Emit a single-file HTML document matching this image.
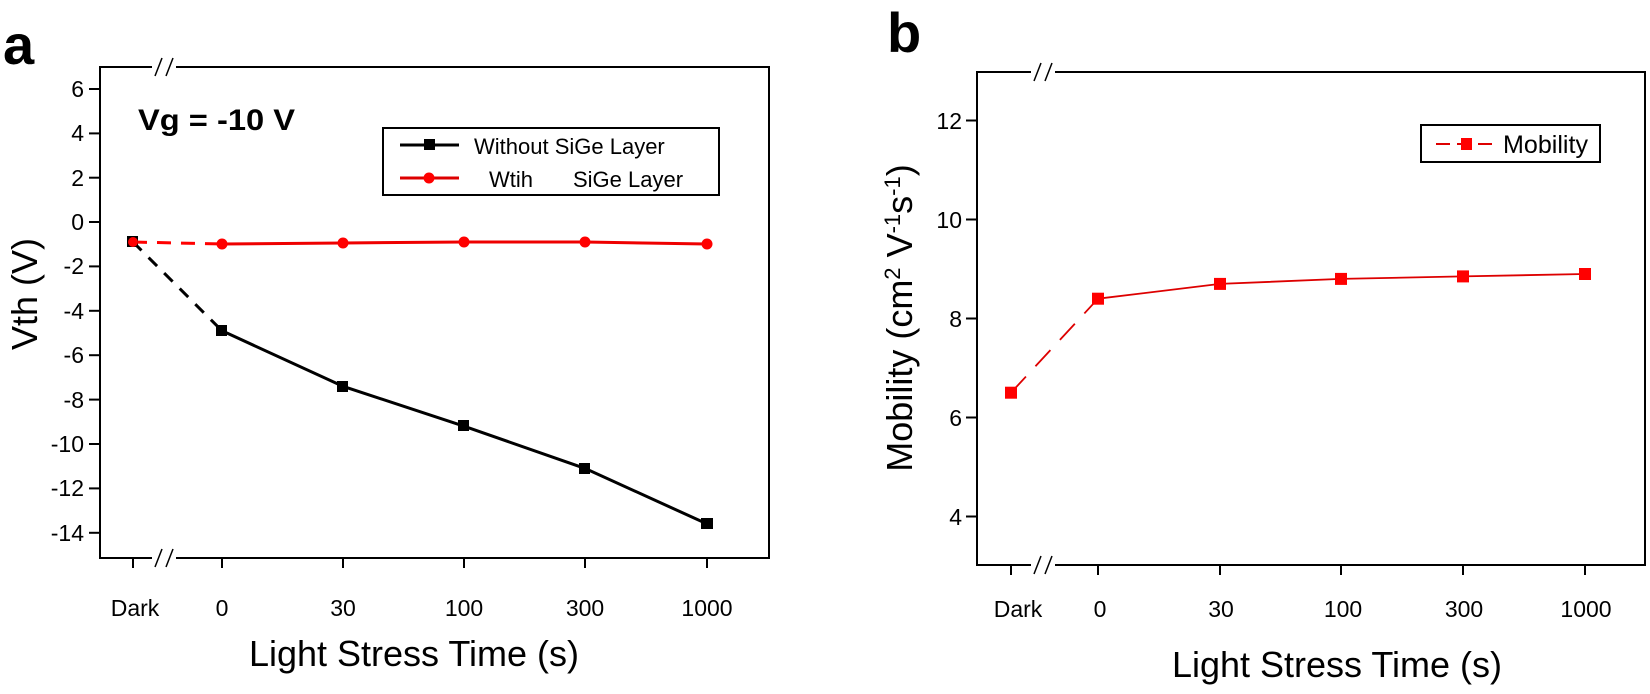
<!DOCTYPE html>
<html><head><meta charset="utf-8"><style>
html,body{margin:0;padding:0;background:#fff;}
svg{display:block;}
text{font-family:"Liberation Sans",Arial,sans-serif;fill:#000;}
</style></head><body>
<svg width="1650" height="694" viewBox="0 0 1650 694" xmlns="http://www.w3.org/2000/svg">
<!-- Panel a -->
<text x="3" y="64" font-size="56" font-weight="bold">a</text>
<rect x="100" y="67" width="669" height="491" fill="none" stroke="#000" stroke-width="2"/>
<line x1="152" y1="67" x2="176" y2="67" stroke="#fff" stroke-width="4"/>
<line x1="155" y1="76" x2="162" y2="58" stroke="#000" stroke-width="1.5"/>
<line x1="166" y1="76" x2="173" y2="58" stroke="#000" stroke-width="1.5"/>
<line x1="152" y1="558" x2="176" y2="558" stroke="#fff" stroke-width="4"/>
<line x1="155" y1="567" x2="162" y2="549" stroke="#000" stroke-width="1.5"/>
<line x1="166" y1="567" x2="173" y2="549" stroke="#000" stroke-width="1.5"/>
<g stroke="#000" stroke-width="2">
<line x1="89" y1="89" x2="100" y2="89"/><line x1="89" y1="133.4" x2="100" y2="133.4"/>
<line x1="89" y1="177.7" x2="100" y2="177.7"/><line x1="89" y1="222" x2="100" y2="222"/>
<line x1="89" y1="266.4" x2="100" y2="266.4"/><line x1="89" y1="310.8" x2="100" y2="310.8"/>
<line x1="89" y1="355.2" x2="100" y2="355.2"/><line x1="89" y1="399.6" x2="100" y2="399.6"/>
<line x1="89" y1="444" x2="100" y2="444"/><line x1="89" y1="488.4" x2="100" y2="488.4"/>
<line x1="89" y1="532.8" x2="100" y2="532.8"/>
<line x1="133" y1="558" x2="133" y2="568"/><line x1="222" y1="558" x2="222" y2="568"/>
<line x1="343" y1="558" x2="343" y2="568"/><line x1="464" y1="558" x2="464" y2="568"/>
<line x1="585" y1="558" x2="585" y2="568"/><line x1="707" y1="558" x2="707" y2="568"/>
</g>
<g font-size="23" text-anchor="end">
<text x="84" y="97">6</text><text x="84" y="141">4</text><text x="84" y="186">2</text>
<text x="84" y="230">0</text><text x="84" y="274">-2</text><text x="84" y="319">-4</text>
<text x="84" y="363">-6</text><text x="84" y="408">-8</text><text x="84" y="452">-10</text>
<text x="84" y="496">-12</text><text x="84" y="541">-14</text>
</g>
<g font-size="23" text-anchor="middle">
<text x="135" y="616">Dark</text><text x="222" y="616">0</text><text x="343" y="616">30</text>
<text x="464" y="616">100</text><text x="585" y="616">300</text><text x="707" y="616">1000</text>
</g>
<text x="414" y="666" font-size="36" text-anchor="middle">Light Stress Time (s)</text>
<text transform="translate(37,294) rotate(-90)" font-size="36" text-anchor="middle">Vth (V)</text>
<text x="138" y="130" font-size="30" font-weight="bold" textLength="157" lengthAdjust="spacingAndGlyphs">Vg = -10 V</text>
<!-- series a -->
<line x1="133" y1="242" x2="222" y2="330.8" stroke="#000" stroke-width="3" stroke-dasharray="12,10"/>
<polyline points="222,330.8 343,386.3 464,426.2 585,468.4 707,523.9" fill="none" stroke="#000" stroke-width="3"/>
<line x1="133" y1="242" x2="222" y2="244" stroke="#f00" stroke-width="3" stroke-dasharray="14,10"/>
<polyline points="222,244 343,243 464,242 585,242 707,244" fill="none" stroke="#e00" stroke-width="3"/>
<g fill="#000"><rect x="127" y="236" width="11" height="11"/><rect x="216" y="325" width="11" height="11"/>
<rect x="337" y="381" width="11" height="11"/><rect x="458" y="420" width="11" height="11"/>
<rect x="579" y="463" width="11" height="11"/><rect x="701" y="518" width="12" height="11"/></g>
<g fill="#f00"><circle cx="133" cy="242" r="5"/><circle cx="222" cy="244" r="5.5"/><circle cx="343" cy="243" r="5.5"/>
<circle cx="464" cy="242" r="5.5"/><circle cx="585" cy="242" r="5.5"/><circle cx="707" cy="244" r="5.5"/></g>
<!-- legend a -->
<rect x="383" y="128" width="336" height="67" fill="#fff" stroke="#000" stroke-width="2"/>
<line x1="400" y1="145" x2="459" y2="145" stroke="#000" stroke-width="3"/>
<rect x="424" y="139" width="11" height="11" fill="#000"/>
<text x="474" y="154" font-size="22">Without SiGe Layer</text>
<line x1="400" y1="178" x2="459" y2="178" stroke="#d00" stroke-width="3"/>
<circle cx="429" cy="178" r="5.5" fill="#f00"/>
<text x="489" y="187" font-size="22">Wtih</text>
<text x="573" y="187" font-size="22">SiGe Layer</text>

<!-- Panel b -->
<text x="887" y="52" font-size="56" font-weight="bold">b</text>
<rect x="977" y="72" width="668" height="493" fill="none" stroke="#000" stroke-width="2"/>
<line x1="1031" y1="72" x2="1055" y2="72" stroke="#fff" stroke-width="4"/>
<line x1="1034" y1="81" x2="1041" y2="63" stroke="#000" stroke-width="1.5"/>
<line x1="1045" y1="81" x2="1052" y2="63" stroke="#000" stroke-width="1.5"/>
<line x1="1031" y1="565" x2="1055" y2="565" stroke="#fff" stroke-width="4"/>
<line x1="1034" y1="574" x2="1041" y2="556" stroke="#000" stroke-width="1.5"/>
<line x1="1045" y1="574" x2="1052" y2="556" stroke="#000" stroke-width="1.5"/>
<g stroke="#000" stroke-width="2">
<line x1="966" y1="120.5" x2="977" y2="120.5"/><line x1="966" y1="219.5" x2="977" y2="219.5"/>
<line x1="966" y1="318.5" x2="977" y2="318.5"/><line x1="966" y1="417.5" x2="977" y2="417.5"/>
<line x1="966" y1="516.5" x2="977" y2="516.5"/>
<line x1="1011" y1="565" x2="1011" y2="575"/><line x1="1098" y1="565" x2="1098" y2="575"/>
<line x1="1220" y1="565" x2="1220" y2="575"/><line x1="1341" y1="565" x2="1341" y2="575"/>
<line x1="1463" y1="565" x2="1463" y2="575"/><line x1="1585" y1="565" x2="1585" y2="575"/>
</g>
<g font-size="23" text-anchor="end">
<text x="962" y="129">12</text><text x="962" y="228">10</text><text x="962" y="327">8</text>
<text x="962" y="426">6</text><text x="962" y="525">4</text>
</g>
<g font-size="23" text-anchor="middle">
<text x="1018" y="617">Dark</text><text x="1100" y="617">0</text><text x="1221" y="617">30</text>
<text x="1343" y="617">100</text><text x="1464" y="617">300</text><text x="1586" y="617">1000</text>
</g>
<text x="1337" y="677" font-size="36" text-anchor="middle">Light Stress Time (s)</text>
<text transform="translate(912,318) rotate(-90)" font-size="36" text-anchor="middle">Mobility (cm<tspan font-size="22" dy="-12">2</tspan><tspan dy="12"> V</tspan><tspan font-size="22" dy="-12">-1</tspan><tspan dy="12">s</tspan><tspan font-size="22" dy="-12">-1</tspan><tspan dy="12">)</tspan></text>
<line x1="1011" y1="392.7" x2="1098" y2="298.7" stroke="#d00" stroke-width="1.8" stroke-dasharray="22,14"/>
<polyline points="1098,298.7 1220,283.9 1341,278.9 1463,276.4 1585,274" fill="none" stroke="#d00" stroke-width="1.8"/>
<g fill="#f00"><rect x="1005" y="386.7" width="12" height="12"/><rect x="1092" y="292.7" width="12" height="12"/>
<rect x="1214" y="277.9" width="12" height="12"/><rect x="1335" y="272.9" width="12" height="12"/>
<rect x="1457" y="270.4" width="12" height="12"/><rect x="1579" y="268" width="12" height="12"/></g>
<rect x="1421" y="125" width="179" height="37" fill="#fff" stroke="#000" stroke-width="2"/>
<line x1="1436" y1="144" x2="1496" y2="144" stroke="#d00" stroke-width="2" stroke-dasharray="14,7"/>
<rect x="1461" y="138" width="11" height="12" fill="#f00"/>
<text x="1503" y="153" font-size="25" textLength="85" lengthAdjust="spacingAndGlyphs">Mobility</text>
</svg>
</body></html>
